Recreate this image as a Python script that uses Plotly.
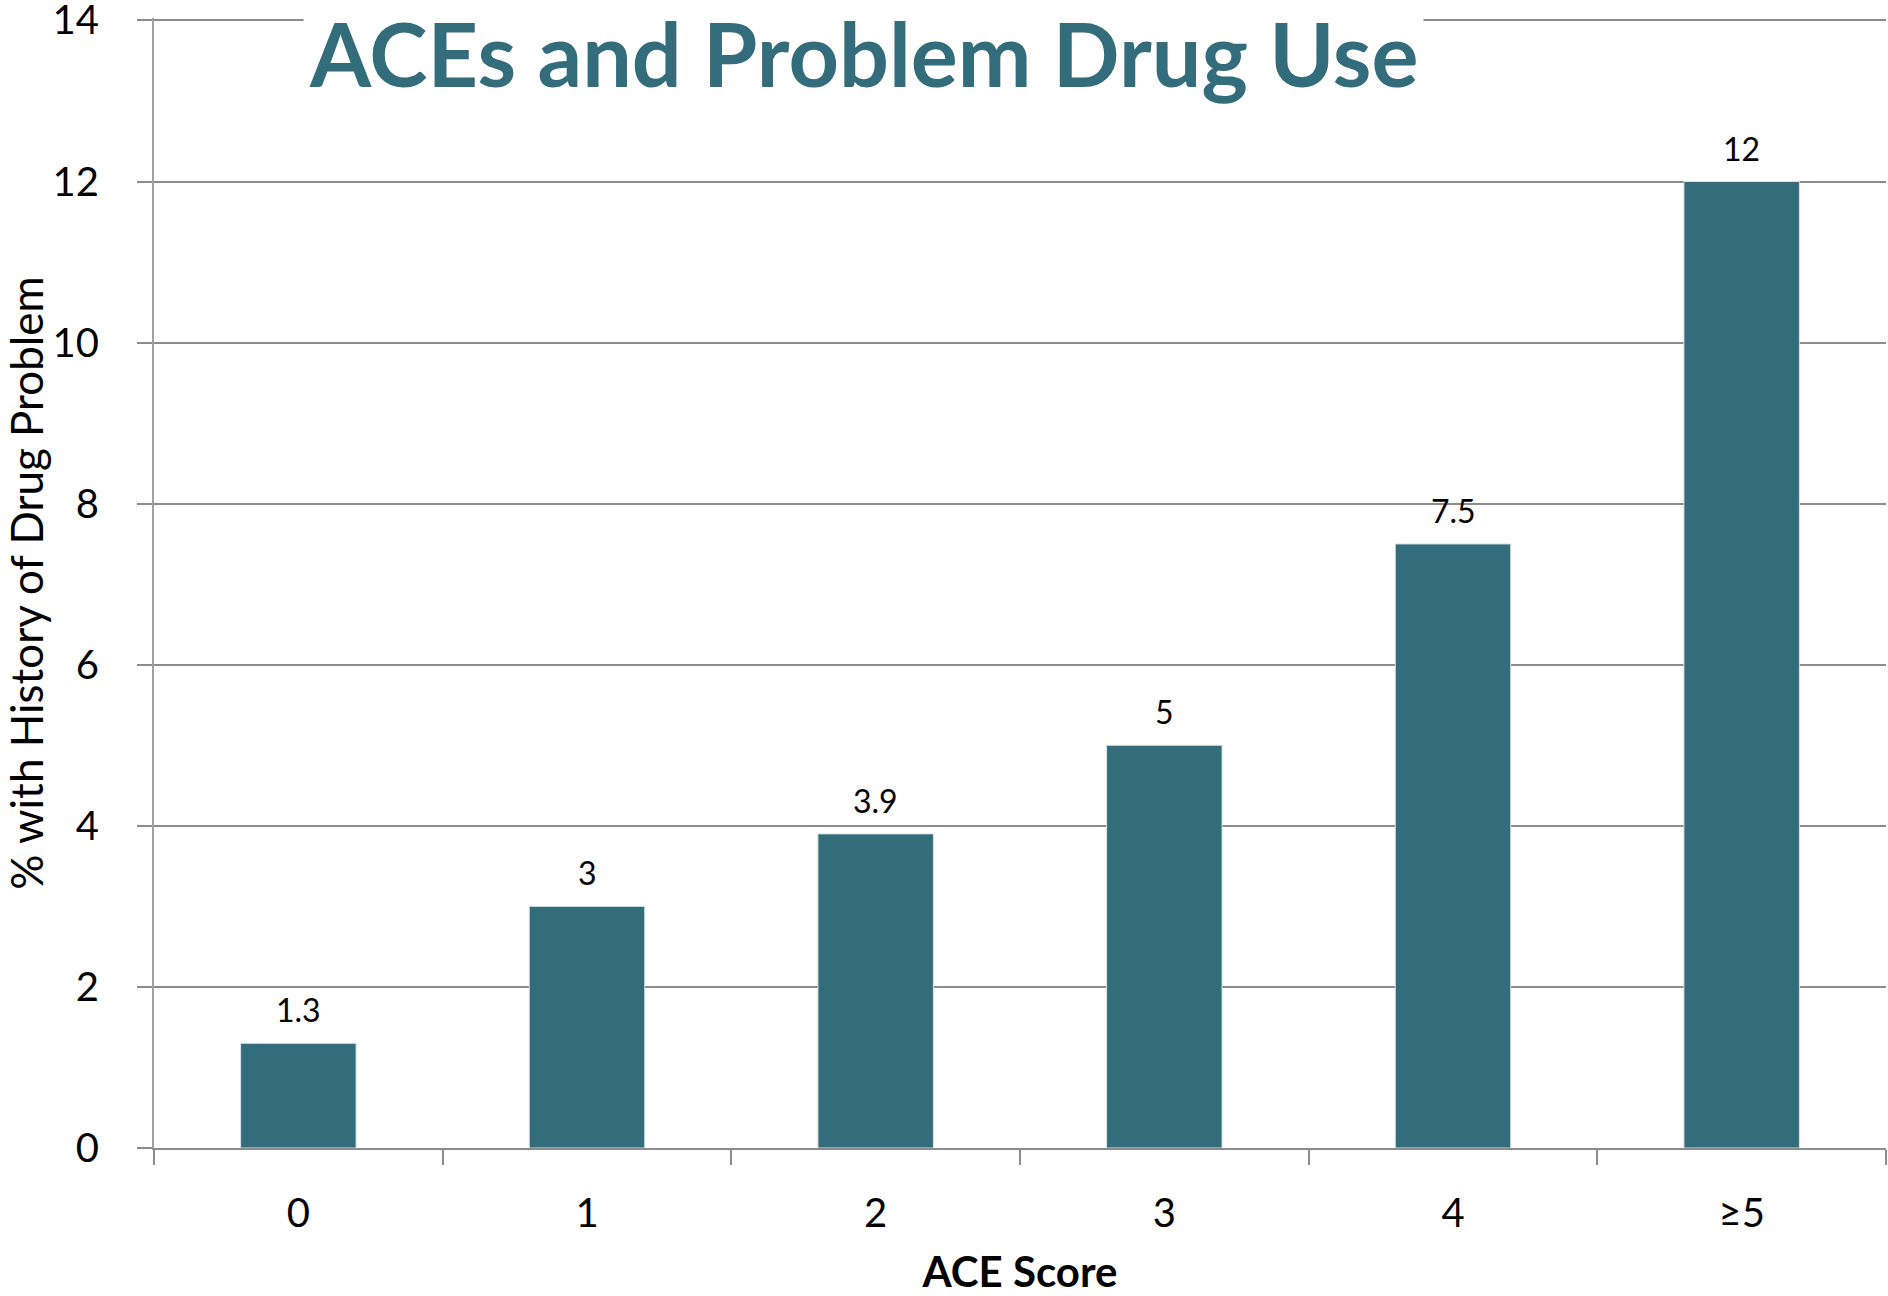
import plotly.graph_objects as go

categories = ["0", "1", "2", "3", "4", "≥5"]
values = [1.3, 3, 3.9, 5, 7.5, 12]
value_labels = ["1.3", "3", "3.9", "5", "7.5", "12"]
y_ticks = [0, 2, 4, 6, 8, 10, 12, 14]

title_text = "ACEs and Problem Drug Use"
x_title = "ACE Score"
y_title = "% with History of Drug Problem"

BAR = "#336C7A"
GRID = "#8C8C8C"
FONT = "Lato"

fig = go.Figure()
fig.add_trace(go.Bar(
    x=categories, y=values, width=0.4,
    marker=dict(color=BAR, line=dict(color="#D7E3E6", width=1)),
    hoverinfo="skip", showlegend=False,
))

for c, v, t in zip(categories, values, value_labels):
    fig.add_annotation(x=c, y=v, text=t, showarrow=False, xref="x", yref="y",
                       yanchor="bottom", yshift=12,
                       font=dict(family=FONT, size=32, color="black"))

fig.add_annotation(x=0.4096, y=1, xref="paper", yref="paper", xanchor="center", yanchor="top",
                   yshift=24, text="<b>" + title_text + "</b>", showarrow=False,
                   bgcolor="white", borderpad=5,
                   font=dict(family=FONT, size=88, color=BAR))

fig.update_layout(
    width=1888, height=1296,
    margin=dict(l=154, r=2, t=18, b=148),
    paper_bgcolor="white", plot_bgcolor="white",
    bargap=0.6,
    font=dict(family=FONT, color="black"),
)
fig.update_xaxes(
    type="category", tickson="boundaries", ticks="outside", ticklen=15, tickwidth=2,
    tickcolor=GRID, showline=True, linecolor=GRID, linewidth=2, automargin=False,
    tickfont=dict(family=FONT, size=40, color="black"), ticklabelstandoff=29,
    title=dict(text="<b>" + x_title + "</b>", font=dict(family=FONT, size=42, color="black"), standoff=35),
    showgrid=False,
)
fig.update_yaxes(
    range=[0, 14.03], tickvals=y_ticks, ticks="outside", ticklen=15, tickwidth=2, tickcolor=GRID,
    showline=True, linecolor="#A0A0A0", linewidth=2, automargin=False,
    showgrid=True, gridcolor=GRID, gridwidth=2, zeroline=False, ticklabeloverflow="allow",
    tickfont=dict(family=FONT, size=40, color="black"), ticklabelstandoff=30,
    title=dict(text=y_title, font=dict(family=FONT, size=44, color="black"), standoff=34),
)

fig.write_html("out.html", config={"displayModeBar": False},
               post_script="document.body.style.margin='0';document.body.style.overflow='hidden';")
